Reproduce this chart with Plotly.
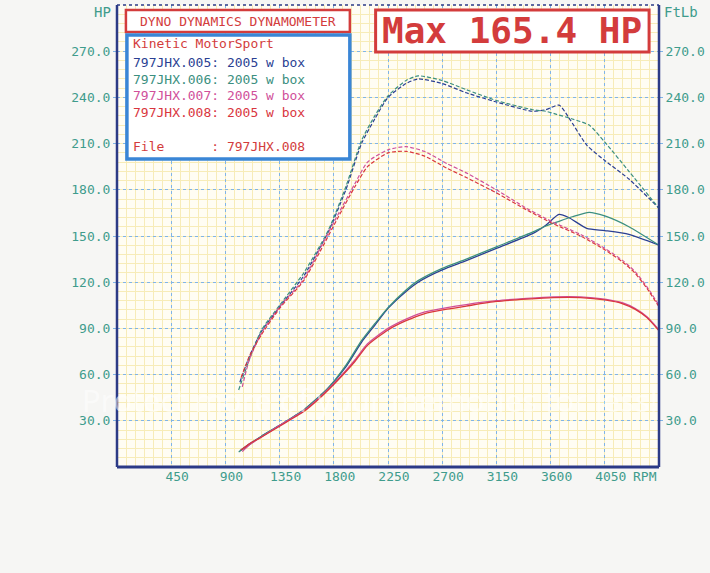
import plotly.graph_objects as go

# run 005 / 006 share a similar rpm sweep, 007 / 008 another
RPM_005 = [1020, 1100, 1200, 1350, 1550, 1750, 1900, 2030, 2140, 2250, 2400, 2500, 2700,
           2900, 3150, 3450, 3560, 3670, 3750, 3900, 4050, 4250, 4500]
HP_005 = [10.5, 15, 20, 27, 37, 51, 65, 81, 92, 103, 114, 120, 128,
          134, 142, 151.5, 157, 164, 162, 155, 153.5, 151, 144]
TQ_005 = [55, 72, 88, 104, 124, 152, 180, 210, 226, 240, 249, 252, 249,
          243, 237, 231, 232, 235, 227, 209, 199, 187, 168]

RPM_006 = [1010, 1100, 1200, 1350, 1550, 1750, 1900, 2030, 2140, 2250, 2400, 2500, 2700,
           2900, 3150, 3450, 3560, 3650, 3780, 3920, 4050, 4250, 4500]
HP_006 = [9.7, 14.5, 20, 27, 37, 51, 66, 82, 93, 103.5, 115, 121, 129,
          135, 143, 152.5, 156.5, 159, 162.5, 165.4, 163, 156, 144]
TQ_006 = [50, 70, 89, 105, 126, 153, 182, 212, 228, 241, 251, 254, 251,
          245, 238, 232, 231, 229, 226, 222, 211, 192, 168]

RPM_007 = [1040, 1100, 1200, 1350, 1550, 1700, 1835, 1975, 2080, 2250, 2400, 2550, 2740,
           2900, 3150, 3400, 3620, 3850, 4050, 4200, 4300, 4400, 4500]
HP_007 = [10, 14.5, 19.5, 27, 36.5, 46.5, 57, 69.5, 80, 90, 96, 100.5, 103.5,
          105.5, 108, 109.5, 110.5, 110.5, 109, 106.5, 103, 97.5, 89]
TQ_007 = [52, 70, 87, 104, 122, 144, 164, 184, 198, 206, 208, 205, 197,
          191, 180, 168, 159, 151, 142, 134, 127, 117, 105]

RPM_008 = [1030, 1100, 1200, 1350, 1550, 1700, 1835, 1975, 2080, 2250, 2400, 2550, 2740,
           2900, 3150, 3400, 3620, 3850, 4050, 4200, 4300, 4400, 4500]
HP_008 = [11, 15, 19.5, 26.5, 36, 46, 56.5, 68.5, 79, 89, 95, 99.5, 102.5,
          104.5, 107.5, 109, 110, 110, 108.5, 106, 102.5, 97, 88.5]
TQ_008 = [58, 72, 86, 103, 121, 142, 162, 182, 195, 204, 205, 202, 194,
          188, 178, 167, 158, 150, 141, 133, 126, 116, 104]

RUNS = ["797JHX.005", "797JHX.006", "797JHX.007", "797JHX.008"]
RUN_COLORS = ["#2b3f93", "#3b8f80", "#d0509a", "#d9363e"]

X_TICKS = [450, 900, 1350, 1800, 2250, 2700, 3150, 3600, 4050]
Y_TICKS = [30, 60, 90, 120, 150, 180, 210, 240, 270]

W, H = 710, 573
L, R, T, B = 117, 46, 5, 106
MONO = "DejaVu Sans Mono"
TEAL = "#3f9c8c"
RED = "#d33c3c"
NAVY = "#2c3b86"


def px(x):
    return (x - L) / (W - L - R)


def py(y):
    return (H - B - y) / (H - T - B)


def label(x, y, text, size=13, color=TEAL, xanchor="center", family=MONO):
    fig.add_annotation(x=px(x), y=py(y), text=text, showarrow=False, xref="paper", yref="paper",
                       xanchor=xanchor, yanchor="middle", font=dict(family=family, size=size, color=color))


fig = go.Figure()

series = [(RPM_005, HP_005, TQ_005), (RPM_006, HP_006, TQ_006),
          (RPM_007, HP_007, TQ_007), (RPM_008, HP_008, TQ_008)]

for (rpm, hp, tq), name, col in zip(series, RUNS, RUN_COLORS):
    fig.add_trace(go.Scatter(x=rpm, y=tq, mode="lines", name=name + " torque",
                             line=dict(color=col, width=1.2, dash="4px,2px", shape="spline", smoothing=0.6),
                             yaxis="y2", showlegend=False))
    fig.add_trace(go.Scatter(x=rpm, y=hp, mode="lines", name=name + " power",
                             line=dict(color=col, width=1.3, shape="spline", smoothing=0.6),
                             showlegend=False))

# frame: solid left/right/bottom, dotted top
frame = [
    (0, 0, 0, 1, 2.5, "solid"),
    (1, 0, 1, 1, 2.5, "solid"),
    (0, 0, 1, 0, 3, "solid"),
    (0, 1, 1, 1, 1.5, "dot"),
]
for x0, y0, x1, y1, w, d in frame:
    fig.add_shape(type="line", xref="paper", yref="paper", x0=x0, y0=y0, x1=x1, y1=y1,
                  line=dict(color=NAVY, width=w, dash=d), layer="above")

# header boxes
fig.add_shape(type="rect", xref="paper", yref="paper", x0=px(126), x1=px(352), y0=py(32), y1=py(10),
              line=dict(color=RED, width=2.5), fillcolor="white", layer="above")
fig.add_shape(type="rect", xref="paper", yref="paper", x0=px(127), x1=px(352), y0=py(159), y1=py(35),
              line=dict(color="#3a86d6", width=3.5), fillcolor="white", layer="above")
fig.add_shape(type="rect", xref="paper", yref="paper", x0=px(378), x1=px(654), y0=py(52), y1=py(10),
              line=dict(color=RED, width=3), fillcolor="white", layer="above")

label(239, 21, "DYNO DYNAMICS DYNAMOMETER", color=RED)
label(516, 31, "<b>Max 165.4 HP</b>", size=36, color=RED)

box_lines = [("Kinetic MotorSport", RED, 44)]
for i, (name, col) in enumerate(zip(RUNS, RUN_COLORS)):
    box_lines.append((name + ": 2005 w box", col, 62.5 + i * 16.5))
box_lines.append(("File      : " + RUNS[-1], RED, 146))
for txt, col, y in box_lines:
    label(131, y, txt, color=col, xanchor="left")

# axis titles
label(113, 12, "HP", size=14, xanchor="right")
label(667, 12, "FtLb", size=14, xanchor="left")
label(664, 476, "RPM", xanchor="right")

# faint scan watermark
label(372, 400, "Protect more of your memories for less!", size=31,
      color="rgba(255,255,255,0.55)", family="Open Sans")

grid_major = dict(showgrid=True, gridcolor="#80b4e8", gridwidth=1, griddash="dot")
grid_minor = dict(showgrid=True, gridcolor="#f7ecb8", gridwidth=1, griddash="solid", tickmode="linear", tick0=0)

fig.update_layout(
    width=W, height=H,
    margin=dict(l=L, r=R, t=T, b=B),
    paper_bgcolor="#f6f6f4",
    plot_bgcolor="#fffdf3",
    showlegend=False,
    xaxis=dict(range=[0, 4500], tickmode="array", tickvals=X_TICKS, ticktext=[str(v) for v in X_TICKS],
               ticklabelshift=6, tickfont=dict(family=MONO, size=13, color=TEAL),
               zeroline=False, showline=False, ticks="",
               minor=dict(dtick=75, **grid_minor), **grid_major),
    yaxis=dict(range=[0, 300], tickmode="array", tickvals=Y_TICKS, ticktext=["%.1f" % v for v in Y_TICKS],
               tickfont=dict(family=MONO, size=13, color=TEAL),
               zeroline=False, showline=False, ticks="outside", ticklen=3, tickcolor="#80b4e8",
               minor=dict(dtick=6, **grid_minor), **grid_major),
    yaxis2=dict(range=[0, 300], overlaying="y", side="right", tickmode="array", tickvals=Y_TICKS,
                ticktext=["%.1f" % v for v in Y_TICKS], tickfont=dict(family=MONO, size=13, color=TEAL),
                showgrid=False, zeroline=False, showline=False, ticks="outside", ticklen=3, tickcolor="#80b4e8"),
)

fig.write_html("out.html", config={"displayModeBar": False},
               post_script="document.body.style.margin='0';")
